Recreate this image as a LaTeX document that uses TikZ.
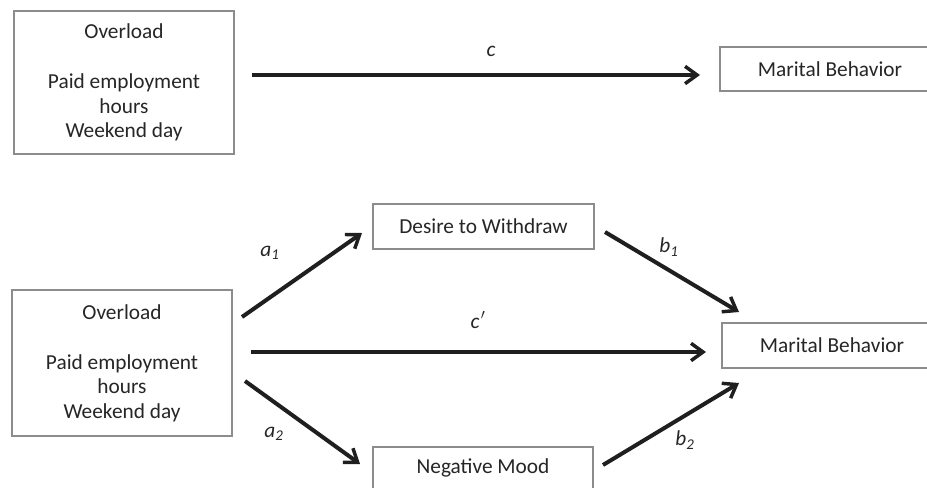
\documentclass[tikz,border=0pt]{standalone}
\usepackage{fontspec}
\setmainfont{Carlito}
\usetikzlibrary{arrows.meta}
\begin{document}
\begin{tikzpicture}[x=0.75pt,y=-0.75pt,
  box/.style={draw=black!45, line width=0.8pt, fill=white, inner sep=0pt,
    font=\fontsize{16pt}{18.5pt}\selectfont, text=black!85, align=center},
  path/.style={line width=3pt, draw=black!88,
    -{Straight Barb[length=9pt,width=13pt,line width=2.6pt]}},
  lbl/.style={font=\fontsize{16pt}{18pt}\selectfont\itshape, text=black!85, inner sep=0pt}]
\useasboundingbox (0,0) rectangle (927,487);
\clip (0,0) rectangle (927,487);
% top model
\node[box, minimum width=165pt, minimum height=107.25pt] (ov1) at (124,82.5)
  {Overload\\[19pt]Paid employment\\hours\\Weekend day};
\node[box, minimum width=180pt, minimum height=33pt] (mb1) at (840,69) {};
\node[font=\fontsize{16pt}{18.5pt}\selectfont, text=black!85, inner sep=0pt] (mb1t) at (830,69) {Marital Behavior};
\coordinate (c1s) at (252,75);
\coordinate (c1e) at (700,75);
\draw[path] (c1s) -- (c1e);
\node[lbl] (lc) at (491,51) {c};
% bottom model
\node[box, minimum width=165pt, minimum height=109.5pt] (ov2) at (122,363)
  {Overload\\[19pt]Paid employment\\hours\\Weekend day};
\node[box, minimum width=165.75pt, minimum height=33.75pt] (dw) at (483.5,226.5) {Desire to Withdraw};
\node[box, minimum width=165pt, minimum height=36pt] (nm) at (483,471) {};
\node[font=\fontsize{16pt}{18.5pt}\selectfont, text=black!85, inner sep=0pt] (nmt) at (483,468) {Negative Mood};
\node[box, minimum width=180pt, minimum height=33.75pt] (mb2) at (842,345.5) {};
\node[font=\fontsize{16pt}{18.5pt}\selectfont, text=black!85, inner sep=0pt] (mb2t) at (832,345.5) {Marital Behavior};
\coordinate (a1s) at (242,317);
\coordinate (a1e) at (362,233);
\coordinate (a2s) at (245,381);
\coordinate (a2e) at (360,464);
\coordinate (b1s) at (605,232);
\coordinate (b1e) at (739,312);
\coordinate (b2s) at (603,465);
\coordinate (b2e) at (739,383);
\coordinate (cps) at (251,352);
\coordinate (cpe) at (706,352);
\draw[path] (a1s) -- (a1e);
\draw[path] (a2s) -- (a2e);
\draw[path] (b1s) -- (b1e);
\draw[path] (b2s) -- (b2e);
\draw[path] (cps) -- (cpe);
\node[lbl] (la1) at (270,253) {a\textsubscript{1}};
\node[lbl] (la2) at (274,434) {a\textsubscript{2}};
\node[lbl] (lb1) at (669,247) {b\textsubscript{1}};
\node[lbl] (lb2) at (685,440) {b\textsubscript{2}};
\node[lbl] (lcp) at (478,320) {c\kern1pt$'$};
\end{tikzpicture}
\end{document}
